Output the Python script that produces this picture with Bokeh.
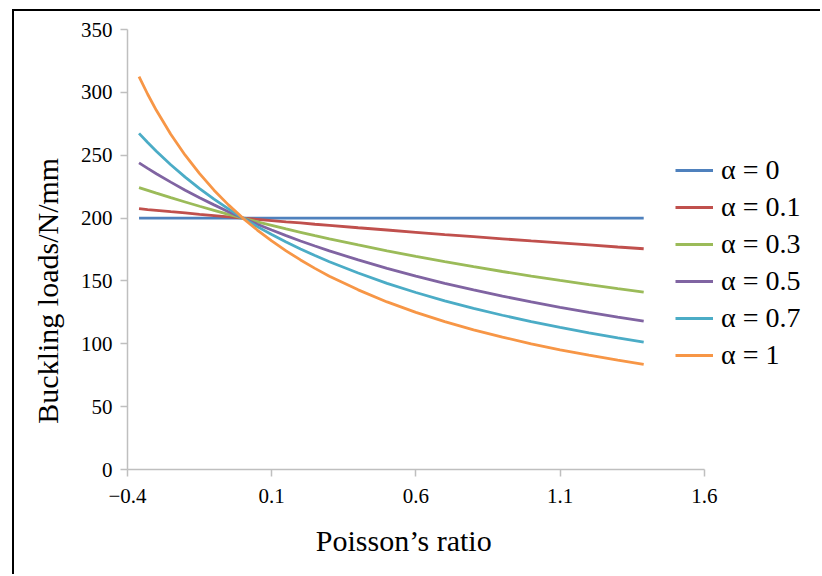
from bokeh.plotting import figure
from bokeh.models import Range1d, Legend, LegendItem, FixedTicker
from bokeh.embed import file_html
from bokeh.resources import INLINE

# Poisson's ratio sample points
poisson = [-0.36, -0.33, -0.3, -0.25, -0.2, -0.15, -0.1, -0.05, 0.0,
           0.05, 0.1, 0.15, 0.2, 0.25, 0.3, 0.4, 0.5, 0.6, 0.7, 0.8,
           0.9, 1.0, 1.1, 1.2, 1.3, 1.39]

# Buckling loads (N/mm)
alpha_0 = [200.0] * 26
alpha_01 = [207.5, 206.8, 206.2, 205.1, 204.1, 203.0, 202.0, 201.0, 200.0,
            199.0, 198.0, 197.0, 196.1, 195.1, 194.2, 192.3, 190.5, 188.7, 186.9, 185.2,
            183.5, 181.8, 180.2, 178.6, 177.0, 175.6]
alpha_03 = [224.2, 222.0, 219.8, 216.2, 212.8, 209.4, 206.2, 203.0, 200.0,
            197.0, 194.2, 191.4, 188.7, 186.0, 183.5, 178.6, 173.9, 169.5, 165.3, 161.3,
            157.5, 153.8, 150.4, 147.1, 143.9, 141.1]
alpha_05 = [243.9, 239.5, 235.3, 228.6, 222.2, 216.2, 210.5, 205.1, 200.0,
            195.1, 190.5, 186.0, 181.8, 177.8, 173.9, 166.7, 160.0, 153.8, 148.1, 142.9,
            137.9, 133.3, 129.0, 125.0, 121.2, 118.0]
alpha_07 = [267.4, 260.1, 253.2, 242.4, 232.6, 223.5, 215.1, 207.3, 200.0,
            193.2, 186.9, 181.0, 175.4, 170.2, 165.3, 156.3, 148.1, 140.8, 134.2, 128.2,
            122.7, 117.6, 113.0, 108.7, 104.7, 101.4]
alpha_1 = [312.5, 298.5, 285.7, 266.7, 250.0, 235.3, 222.2, 210.5, 200.0,
           190.5, 181.8, 173.9, 166.7, 160.0, 153.8, 142.9, 133.3, 125.0, 117.6, 111.1,
           105.3, 100.0, 95.2, 90.9, 87.0, 83.7]

series_labels = ["α = 0", "α = 0.1", "α = 0.3", "α = 0.5", "α = 0.7", "α = 1"]
series_values = [alpha_0, alpha_01, alpha_03, alpha_05, alpha_07, alpha_1]
series_colors = ["#4F81BD", "#C0504D", "#9BBB59", "#8064A2", "#4BACC6", "#F79646"]

x_ticks = [-0.4, 0.1, 0.6, 1.1, 1.6]
x_tick_labels = ["\u22120.4", "0.1", "0.6", "1.1", "1.6"]
y_ticks = [0, 50, 100, 150, 200, 250, 300, 350]

SERIF = "Liberation Serif"

# frame runs to the right edge so the legend (inside the frame) is not clipped;
# the axis line itself is bounded to -0.4 ... 1.6
p = figure(width=808, height=565, output_backend="svg", toolbar_location=None,
           x_range=Range1d(-0.4, 2.01), y_range=Range1d(0, 350),
           min_border_left=113, min_border_right=0, min_border_top=18,
           min_border_bottom=107)
p.styles = {"border-top": "2px solid black", "border-left": "2px solid black",
            "margin-left": "12px", "margin-top": "9px"}
p.outline_line_color = None
p.grid.visible = False

items = []
for lab, vals, col in zip(series_labels, series_values, series_colors):
    r = p.line(poisson, vals, line_color=col, line_width=2.8)
    items.append(LegendItem(label=lab, renderers=[r]))

axis_color = "#BFBFBF"
for ax in (p.xaxis[0], p.yaxis[0]):
    ax.axis_line_color = axis_color
    ax.axis_line_width = 1.5
    ax.major_tick_line_color = axis_color
    ax.major_tick_line_width = 1.5
    ax.major_tick_out = 7
    ax.major_tick_in = 0
    ax.minor_tick_line_color = None
    ax.major_label_text_font = SERIF
    ax.major_label_text_font_size = "21px"
    ax.major_label_text_color = "black"
    ax.axis_label_text_font = SERIF
    ax.axis_label_text_font_size = "30px"
    ax.axis_label_text_font_style = "normal"
    ax.axis_label_text_color = "black"

p.xaxis.ticker = FixedTicker(ticks=x_ticks)
p.xaxis.bounds = (x_ticks[0], x_ticks[-1])
p.xaxis.major_label_overrides = {t: l for t, l in zip(x_ticks, x_tick_labels)}
p.xaxis.major_label_standoff = 12
p.xaxis.axis_label = "Poisson\u2019s ratio" + "\u00a0" * 19
p.xaxis.axis_label_standoff = 18

p.yaxis.ticker = FixedTicker(ticks=y_ticks)
p.yaxis.bounds = (y_ticks[0], y_ticks[-1])
p.yaxis.major_label_standoff = 8
p.yaxis.axis_label = "Buckling loads/N/mm" + "\u00a0" * 11
p.yaxis.axis_label_standoff = 14

legend = Legend(items=items, location=(548, 98), orientation="vertical",
                label_text_font=SERIF, label_text_font_size="28px",
                label_text_color="black",
                glyph_width=38, glyph_height=30, label_height=30,
                label_standoff=8, spacing=5, padding=0, margin=0,
                border_line_color=None, background_fill_alpha=0)
p.add_layout(legend)

open("out.html", "w").write(file_html(p, INLINE))
